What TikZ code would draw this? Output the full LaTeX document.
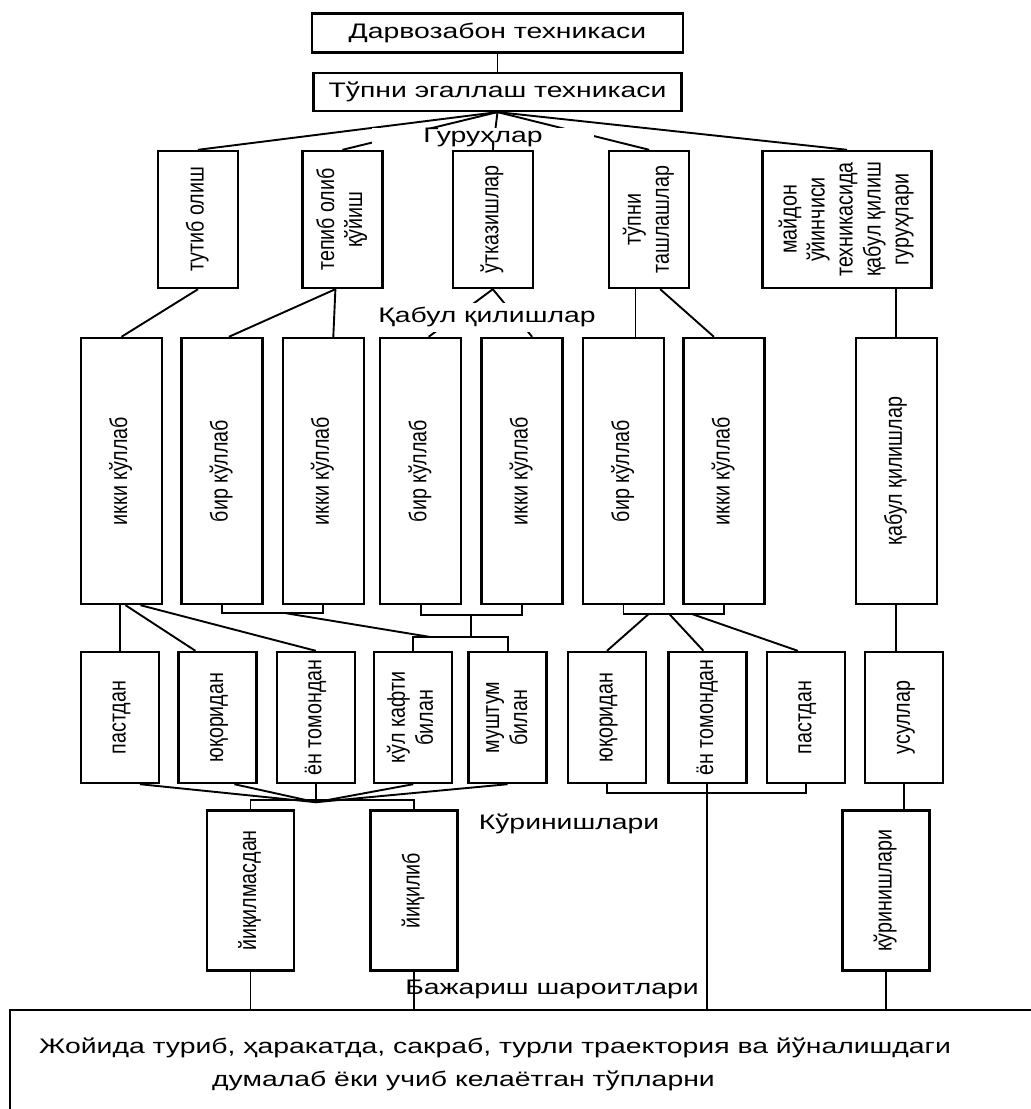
\documentclass[tikz,border=0pt]{standalone}
\usepackage{fontspec}
\usepackage{graphicx}
\usetikzlibrary{positioning, calc}
\newfontfamily\hfont[FakeStretch=1.35]{Liberation Sans}
\newfontfamily\vfont[FakeStretch=0.81]{Liberation Sans}
\newcommand{\vtxt}[1]{\rotatebox{90}{\begin{tabular}{@{}c@{}}#1\end{tabular}}}
\tikzset{blk/.style={draw, line width=2.4pt, inner sep=0pt}}
\tikzset{hblk/.style={blk, font=\hfont\fontsize{21}{25}\selectfont}}
\tikzset{vblk/.style={blk, font=\vfont\fontsize{24.3}{28}\selectfont}}
\tikzset{grp/.style={vblk, minimum width=80pt, minimum height=137pt}}
\tikzset{rcv/.style={vblk, minimum width=81pt, minimum height=266pt}}
\tikzset{way/.style={vblk, minimum width=78pt, minimum height=131pt}}
\tikzset{kind/.style={vblk, minimum width=87pt, minimum height=160pt}}
\tikzset{tag/.style={font=\hfont\fontsize{21}{25}\selectfont, inner sep=0pt}}
\tikzset{lnk/.style={line width=1.9pt}}

\begin{document}
\begin{tikzpicture}[x=1pt, y=-1pt]
  \clip (0,0) rectangle (1031,1109);

  % top
  \node[hblk, minimum width=371pt, minimum height=39pt] (gk) at (497.5,33) {Дарвозабон техникаси};
  \node[hblk, minimum width=368pt, minimum height=38pt, below=18pt of gk] (tech) {Тўпни эгаллаш техникаси};

  % groups
  \node[grp] (g1) at (198,219.5) {\vtxt{тутиб олиш}};
  \node[grp, right=62pt of g1] (g2) {\vtxt{тепиб олиб\\қўйиш}};
  \node[grp, right=68pt of g2] (g3) {\vtxt{ўтказишлар}};
  \node[grp, right=74pt of g3] (g4) {\vtxt{тўпни\\ташлашлар}};
  \node[grp, minimum width=169pt, right=71pt of g4] (g5) {\vtxt{майдон\\ўйинчиси\\техникасида\\қабул қилиш\\гуруҳлари}};

  % receptions
  \node[rcv] (r1) at (121.5,471) {\vtxt{икки кўллаб}};
  \node[rcv, right=17pt of r1] (r2) {\vtxt{бир кўллаб}};
  \node[rcv, right=18pt of r2] (r3) {\vtxt{икки кўллаб}};
  \node[rcv, right=14pt of r3] (r4) {\vtxt{бир кўллаб}};
  \node[rcv, right=18pt of r4] (r5) {\vtxt{икки кўллаб}};
  \node[rcv, right=18pt of r5] (r6) {\vtxt{бир кўллаб}};
  \node[rcv, right=17pt of r6] (r7) {\vtxt{икки кўллаб}};
  \node[rcv, right=89pt of r7] (r8) {\vtxt{қабул қилишлар}};

  % directions
  \node[way] (s1) at (120,717.5) {\vtxt{пастдан}};
  \node[way, right=17pt of s1] (s2) {\vtxt{юқоридан}};
  \node[way, right=18pt of s2] (s3) {\vtxt{ён томондан}};
  \node[way, right=17pt of s3] (s4) {\vtxt{кўл кафти\\билан}};
  \node[way, right=14pt of s4] (s5) {\vtxt{муштум\\билан}};
  \node[way, right=19pt of s5] (s6) {\vtxt{юқоридан}};
  \node[way, right=20pt of s6] (s7) {\vtxt{ён томондан}};
  \node[way, right=18pt of s7] (s8) {\vtxt{пастдан}};
  \node[way, right=18pt of s8] (s9) {\vtxt{усуллар}};

  % kinds
  \node[kind] (v1) at (250.5,890.5) {\vtxt{йиқилмасдан}};
  \node[kind, right=74pt of v1] (v2) {\vtxt{йиқилиб}};
  \node[kind] (u1) at (886,890.5) {\vtxt{кўринишлари}};

  % conditions
  \node[blk, anchor=north west, minimum width=1040pt, minimum height=120pt] (base) at (9,1009) {};
  \node[tag, anchor=west] (c1) at (39,1048) {Жойида туриб, ҳаракатда, сакраб, турли траектория ва йўналишдаги};
  \node[tag, anchor=west] (c2) at (212,1081) {думалаб ёки учиб келаётган тўпларни};

  % links
  \draw[lnk] (gk.south) -- (gk.south |- tech.north);
  \foreach \g in {g1,g2,g3,g4,g5}
    \draw[lnk] (tech.south) -- (\g.north);

  \draw[lnk] (g1.south) -- (r1.north);
  \draw[lnk] ($(g2.south)+(-7,0)$) -- ($(r2.north)+(7,0)$);
  \draw[lnk] ($(g2.south)+(-7,0)$) -- ($(r3.north)+(10,0)$);
  \draw[lnk] (g3.south) -- ($(r4.north)+(8,0)$);
  \draw[lnk] (g3.south) -- ($(r5.north)+(10,0)$);
  \draw[lnk] ($(r6.north)+(12,0)$) coordinate (q6) -- (q6 |- g4.south);
  \draw[lnk] ($(g4.south)+(11,0)$) -- ($(r7.north)+(-10,0)$);
  \draw[lnk] (r8.north) -- (r8.north |- g5.south);

  \draw[lnk] (s1.north) -- (s1.north |- r1.south);
  \draw[lnk] ($(r1.south)+(4,0)$) -- ($(s2.north)+(-22,0)$);
  \draw[lnk] ($(r1.south)+(19,0)$) -- (s3.north);
  \draw[lnk] (r2.south) -- ++(0,8) -| (r3.south);
  \draw[lnk] (r4.south) -- ++(0,10) -| (r5.south);
  \draw[lnk] (s4.north) -- ++(0,-14) -| (s5.north);
  \draw[lnk] ($(r4.south)!0.5!(r5.south)+(0,10)$) coordinate (m45) -- ($(m45 |- s4.north)+(0,-14)$);
  \draw[lnk] ($(r2.south)!0.63!(r3.south)+(0,8)$) -- ($(s4.north)+(16,-14)$);
  \draw[lnk] (r6.south) -- ++(0,9) -| (r7.south);
  \draw[lnk] ($(r6.south)+(25,9)$) -- (s6.north);
  \draw[lnk] ($(r6.south)+(46,9)$) -- ($(s7.north)+(-4,0)$);
  \draw[lnk] ($(r6.south)+(69,9)$) -- ($(s8.north)+(-8,0)$);
  \draw[lnk] (r8.south) -- (r8.south |- s9.north);

  \draw[lnk] (s3.south) -- ++(0,18) coordinate (cv);
  \draw[lnk] ($(s1.south)+(20,0)$) -- (cv);
  \draw[lnk] ($(s2.south)+(17,0)$) -- (cv);
  \draw[lnk] (s4.south) -- (cv);
  \draw[lnk] (s5.south) -- (cv);
  \draw[lnk] (v1.north) -- ++(0,-9) -| (v2.north);
  \draw[lnk] (s6.south) -- ++(0,9) -| (s8.south);
  \draw[lnk] (s7.south) -- (s7.south |- base.north);
  \draw[lnk] (s9.south) -- (s9.south |- u1.north);
  \foreach \k in {v1,v2,u1}
    \draw[lnk] (\k.south) -- (\k.south |- base.north);

  % labels
  \node[tag, fill=white, minimum width=222pt, minimum height=18pt] (lg) at (483,137) {Гуруҳлар};
  \node[tag, fill=white, minimum width=225pt, minimum height=29pt] (lq) at (487,317) {Қабул қилишлар};
  \node[tag] (lk) at (569,824) {Кўринишлари};
  \node[tag] (lb) at (552,989) {Бажариш шароитлари};
\end{tikzpicture}
\end{document}
